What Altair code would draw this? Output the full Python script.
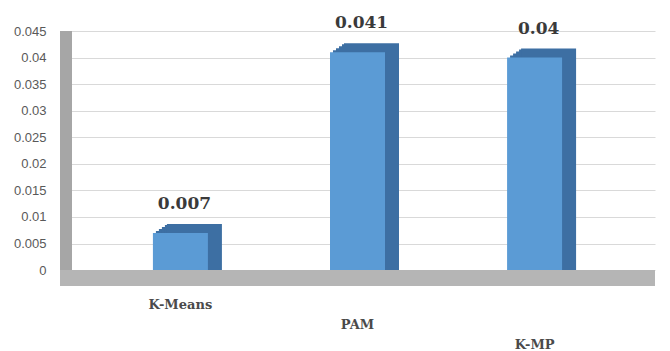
import altair as alt
import pandas as pd

methods = ["K-Means", "PAM", "K-MP"]
values = [0.007, 0.041, 0.04]
y_ticks = [0, 0.005, 0.01, 0.015, 0.02, 0.025, 0.03, 0.035, 0.04, 0.045]

df = pd.DataFrame({"method": methods, "value": values})

x_enc = alt.X(
    "method:N",
    sort=methods,
    scale=alt.Scale(paddingOuter=0.18, paddingInner=0.0),
    axis=alt.Axis(
        title=None,
        labelAngle=0,
        domain=False,
        ticks=False,
        grid=False,
        labelFont="DejaVu Serif",
        labelFontSize=13,
        labelFontWeight="bold",
        labelColor="#4a4a4a",
        labelPadding={"expr": "datum.value == 'K-Means' ? 12 : datum.value == 'PAM' ? 32 : 52"},
    ),
)
y_scale = alt.Scale(domain=[-0.003, 0.045], nice=False, zero=False)
y_axis = alt.Axis(
    title=None,
    values=y_ticks,
    format=".3~f",
    domain=False,
    ticks=False,
    grid=True,
    gridColor="#d9d9d9",
    gridWidth=1,
    labelOverlap=False,
    labelFont="Liberation Sans",
    labelFontSize=13,
    labelColor="#595959",
    labelPadding=14,
)
y_enc = alt.Y("value:Q", scale=y_scale, axis=y_axis)

base = alt.Chart(df)

floor = base.mark_rect(color="#b5b5b5").encode(
    x=alt.value(0),
    x2=alt.value({"expr": "width"}),
    y=alt.Y(datum=0, type="quantitative", scale=y_scale, axis=y_axis),
    y2=alt.datum(-0.003),
)
wall = base.mark_rect(color="#a6a6a6").encode(
    x=alt.value(0),
    x2=alt.value(12),
    y=alt.Y(datum=0, type="quantitative", scale=y_scale, axis=y_axis),
    y2=alt.datum(0.045),
)

depth_layers = [
    base.mark_bar(color="#3d6fa3", size=55, xOffset=dx, yOffset=dy).encode(
        x=x_enc, y=y_enc, y2=alt.datum(0)
    )
    for dx, dy in [(3, -2), (6, -4), (9, -6), (12, -8), (14, -9)]
]
front = base.mark_bar(color="#5b9bd5", size=55).encode(
    x=x_enc, y=y_enc, y2=alt.datum(0)
)
labels = base.mark_text(
    font="DejaVu Serif",
    fontSize=17,
    fontWeight="bold",
    color="#3a3a3a",
    dy=-20,
    dx=4,
    baseline="bottom",
).encode(x=x_enc, y=y_enc, text=alt.Text("value:Q", format=".3~f"))

chart = (
    alt.layer(floor, wall, *depth_layers, front, labels)
    .properties(
        width=595,
        height=255,
        background="white",
        autosize=alt.AutoSizeParams(type="none"),
        padding={"left": 60, "top": 31, "right": 15, "bottom": 65},
    )
    .configure_view(stroke=None)
)

chart.save("out.html", embed_options={"renderer": "svg", "actions": False})
